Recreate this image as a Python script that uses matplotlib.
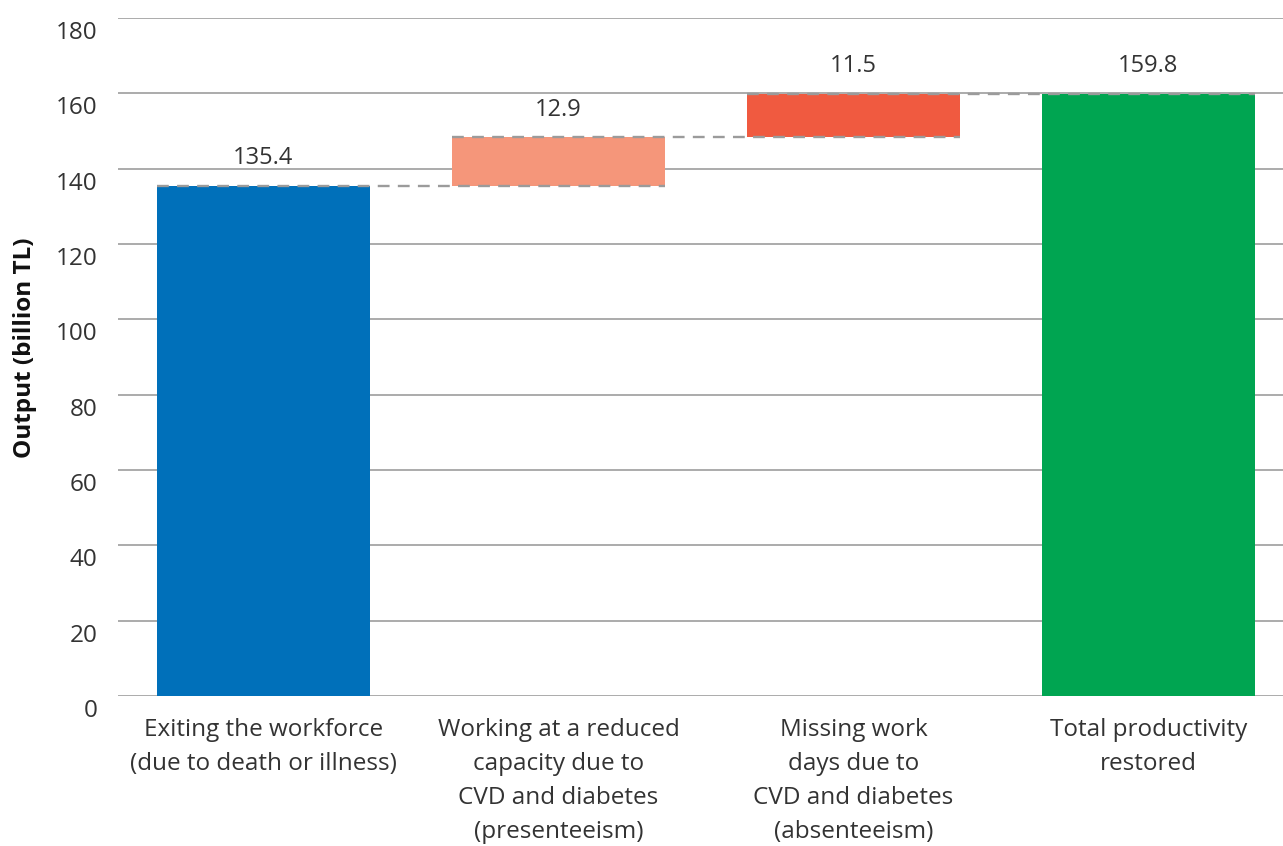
import matplotlib.pyplot as plt
from matplotlib.transforms import ScaledTranslation

# Waterfall data (billion TL)
categories = [
    "Exiting the workforce\n(due to death or illness)",
    "Working at a reduced\ncapacity due to\nCVD and diabetes\n(presenteeism)",
    "Missing work\ndays due to\nCVD and diabetes\n(absenteeism)",
    "Total productivity\nrestored",
]
values = [135.4, 12.9, 11.5, 159.8]
is_total = [False, False, False, True]
bar_colors = ["#0070BA", "#F5967A", "#F05A40", "#00A551"]
yticks = [0, 20, 40, 60, 80, 100, 120, 140, 160, 180]

plt.rcParams['font.family'] = ['Open Sans', 'DejaVu Sans']
text_color = "#333333"

fig = plt.figure(figsize=(12.83, 8.46), dpi=100)
ax = fig.add_axes([118 / 1283, 1 - 696 / 846, 1165 / 1283, 678 / 846])

# compute bases for floating bars
bases = []
running = 0
for v, tot in zip(values, is_total):
    if tot:
        bases.append(0)
        running = v
    else:
        bases.append(running)
        running += v

x = list(range(len(categories)))
width = 0.72
ax.bar(x, values, bottom=bases, width=width, color=bar_colors, zorder=3)

# dashed connectors
tops = [b + v for b, v in zip(bases, values)]
for i in range(len(values) - 1):
    level = tops[i]
    ax.plot([x[i] - width / 2, x[i + 1] + width / 2], [level, level],
            linestyle=(0, (5, 3.5)), color="#9B9B9B", linewidth=1.7, zorder=4)

# value labels
for i, v in enumerate(values):
    ax.annotate(f"{v:.1f}", (x[i], tops[i]), xytext=(0, 20), textcoords="offset points",
                ha="center", va="center", fontsize=17, color=text_color)

ax.set_ylim(0, 180)
ax.set_xlim(-0.493, 3.456)
ax.set_yticks(yticks)
ax.yaxis.grid(True, color="#ABABAB", linewidth=1.4, zorder=0)
ax.set_axisbelow(True)
for s in ax.spines.values():
    s.set_visible(False)
ax.tick_params(axis="both", length=0, labelsize=17.5, colors=text_color)
ax.tick_params(axis="x", pad=16)
ax.tick_params(axis="y", pad=15)
ax.set_xticks(x)
ax.set_xticklabels(categories, linespacing=1.55)

# y tick labels sit a bit below their gridlines
shift = ScaledTranslation(0, -12 / 100, fig.dpi_scale_trans)
for lbl in ax.get_yticklabels():
    lbl.set_transform(lbl.get_transform() + shift)

ax.set_ylabel("Output (billion TL)", fontsize=17.5, fontweight="bold", color="#111111",
              va="center")
ax.yaxis.set_label_coords(-0.0798, 0.514)

fig.savefig("out.png", dpi=100)
